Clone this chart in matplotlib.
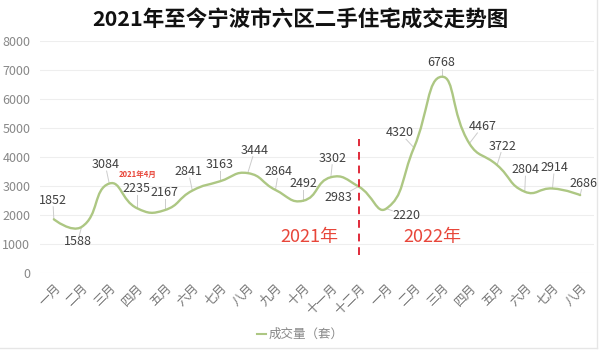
import matplotlib
matplotlib.use("Agg")
import matplotlib.pyplot as plt
from matplotlib.path import Path
from matplotlib.patches import PathPatch
import numpy as np

plt.rcParams['font.family'] = ['Noto Sans CJK SC', 'DejaVu Sans']

# data
months = ['一月', '二月', '三月', '四月', '五月', '六月', '七月', '八月', '九月', '十月',
          '十一月', '十二月',
          '一月', '二月', '三月', '四月', '五月', '六月', '七月', '八月']
volume = [1852, 1588, 3084, 2235, 2167, 2841, 3163, 3444, 2864, 2492,
          3302, 2983,
          2220, 4320, 6768, 4467, 3722, 2804, 2914, 2686]
y_ticks = [0, 1000, 2000, 3000, 4000, 5000, 6000, 7000, 8000]
title = '2021年至今宁波市六区二手住宅成交走势图'
series_name = '成交量（套）'
divider_idx = 11          # 十二月 2021
divider_range = (620, 4620)

# label offsets in pixels (dx right, dy down) from each point
label_off = [(-1, -19), (-4, 15), (-4, -19), (0, -20), (0, -18), (-4, -19), (0, -17),
             (7, -23), (3, -18), (0, -17), (2, -19), (-20, 11), (20, 7), (-14, -15),
             (0, -14), (13, -17), (6, -19), (1, -22), (2, -21), (3, -12)]

LINE = '#adc783'
W, H = 600, 351
fig = plt.figure(figsize=(W / 100, H / 100), dpi=100)
ax = fig.add_axes([40 / W, 1 - 273 / H, 554 / W, 232 / H])
ax.set_xlim(-0.5, len(months) - 0.5)
ax.set_ylim(0, 8000)

# pixel scales used for smoothing / offsets
sx = 554 / len(months)
sy = 232 / 8000


def smooth_path(xs, ys, smooth=0.5):
    """bezier smoothing like the old echarts line (no clamping), in pixel space"""
    px = np.array(xs) * sx
    py = np.array(ys) * sy
    n = len(px)
    cps = []
    for i in range(n):
        if i == 0 or i == n - 1:
            cps.append(((px[i], py[i]), (px[i], py[i])))
            continue
        vx = (px[i + 1] - px[i - 1]) * smooth
        vy = (py[i + 1] - py[i - 1]) * smooth
        d0 = np.hypot(px[i] - px[i - 1], py[i] - py[i - 1])
        d1 = np.hypot(px[i + 1] - px[i], py[i + 1] - py[i])
        s = d0 + d1
        d0, d1 = d0 / s, d1 / s
        cps.append(((px[i] - vx * d0, py[i] - vy * d0), (px[i] + vx * d1, py[i] + vy * d1)))
    verts = [(px[0], py[0])]
    codes = [Path.MOVETO]
    for i in range(1, n):
        verts += [cps[i - 1][1], cps[i][0], (px[i], py[i])]
        codes += [Path.CURVE4] * 3
    verts = [(a / sx, b / sy) for a, b in verts]
    return Path(verts, codes)


xs = np.arange(len(months))
ax.add_patch(PathPatch(smooth_path(xs, volume), fill=False, edgecolor=LINE, lw=1.7, zorder=3,
                       capstyle='round', joinstyle='round'))

# data labels with leader lines
for i, v in enumerate(volume):
    dx, dy = label_off[i]
    tx, ty = i + dx / sx, v - dy / sy
    ax.text(tx, ty, str(v), ha='center', va='center', fontsize=9, color='#404040', zorder=5)
    # leader from text box edge to point
    t = min(14 / abs(dx) if dx else 1e9, 6.5 / abs(dy) if dy else 1e9)
    ex, ey = dx * (1 - t), dy * (1 - t)
    ax.plot([i + ex / sx, i], [v - ey / sy, v], color='#cccccc', lw=0.7, zorder=2)

# divider and year labels
ax.plot([divider_idx, divider_idx], divider_range, color='#e02a3a', lw=1.4,
        ls=(0, (4, 3)), zorder=4)
ax.text(9.24, 1240, '2021年', color='#e8463a', fontsize=13, ha='center', va='center')
ax.text(13.65, 1240, '2022年', color='#e8463a', fontsize=13, ha='center', va='center')
ax.text(3.03, 3410, '2021年4月', color='#e8463a', fontsize=5.5, fontweight='bold',
        ha='center', va='center')

# axes styling
ax.set_yticks(y_ticks)
ax.grid(axis='y', color='#eeeeee', lw=0.8)
ax.set_axisbelow(True)
for s in ax.spines.values():
    s.set_visible(False)
ax.tick_params(axis='y', length=0, pad=7, labelsize=9, labelcolor='#888888')
ax.set_xticks(xs)
ax.set_xticklabels(months, rotation=45, ha='right', va='top', rotation_mode='anchor',
                   fontsize=9, color='#777777')
ax.tick_params(axis='x', length=0, pad=6)

fig.text(0.5, 1 - 20 / H, title, ha='center', va='center', fontsize=15.5,
         fontweight='bold', color='#111111')

# legend
fig.add_artist(plt.Line2D([257 / W, 266 / W], [1 - 334 / H] * 2, color=LINE, lw=1.5))
fig.text(269 / W, 1 - 334 / H, series_name, ha='left', va='center', fontsize=9,
         color='#888888')

# faint frame on right/bottom like the screenshot
fig.add_artist(plt.Line2D([0, 597 / W], [1 - 348 / H] * 2, color='#e6e6e6', lw=1))
fig.add_artist(plt.Line2D([597 / W] * 2, [1 - 348 / H, 1], color='#e6e6e6', lw=1))

fig.savefig('out.png', dpi=100)
